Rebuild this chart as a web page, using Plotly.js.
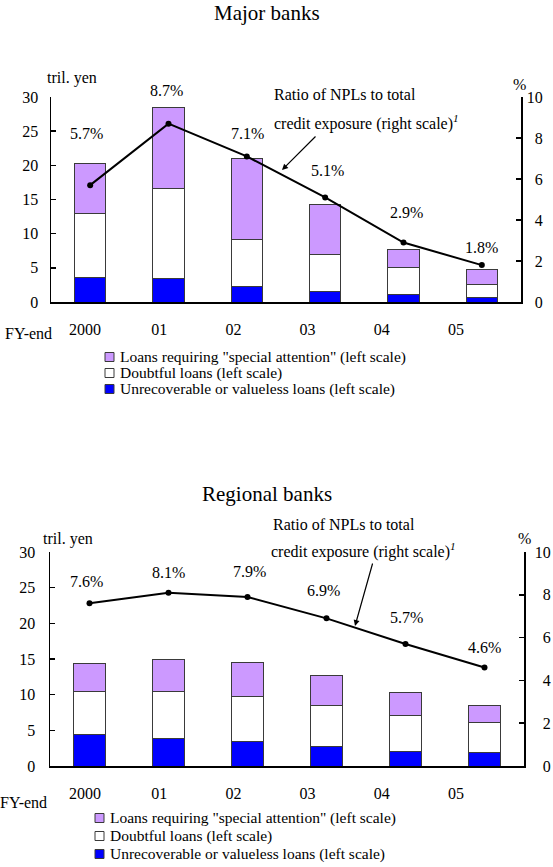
<!DOCTYPE html>
<html>
<head>
<meta charset="utf-8">
<script src="https://cdn.plot.ly/plotly-3.0.1.min.js"></script>
<style>
  html, body { margin: 0; padding: 0; background: #fff; }
  #chart { width: 553px; height: 867px; }
</style>
</head>
<body>
<div id="chart"></div>
<script>
// Fiscal years on the category axis
const years = ['2000', '01', '02', '03', '04', '05'];

// Series names shown in the legends
const seriesNames = [
  'Loans requiring "special attention" (left scale)',
  'Doubtful loans (left scale)',
  'Unrecoverable or valueless loans (left scale)'
];

// Major banks, trillion yen
const majorUnrecoverable = [3.65, 3.5, 2.25, 1.6, 1.15, 0.6];
const majorDoubtful = [9.35, 13.15, 6.85, 5.3, 3.85, 1.9];
const majorSpecial = [7.2, 11.8, 11.95, 7.3, 2.75, 2.3];
// Major banks, NPL ratio (%)
const majorRatio = [5.7, 8.7, 7.1, 5.1, 2.9, 1.8];

// Regional banks, trillion yen
const regionalUnrecoverable = [4.4, 3.85, 3.45, 2.7, 2.1, 1.85];
const regionalDoubtful = [6.1, 6.55, 6.25, 5.8, 5.0, 4.25];
const regionalSpecial = [3.8, 4.6, 4.75, 4.15, 3.15, 2.4];
// Regional banks, NPL ratio (%)
const regionalRatio = [7.6, 8.1, 7.9, 6.9, 5.7, 4.6];

// Tick values for the two value axes
const leftTicks = [0, 5, 10, 15, 20, 25, 30];
const rightTicks = [0, 2, 4, 6, 8, 10];

// ---- layout helpers (pixel -> paper) ----
const W = 553, H = 867;
const px = x => x / W;
const py = y => 1 - y / H;
const FONT = '"Liberation Serif", "Times New Roman", serif';
const colors = ['#CC99FF', '#FFFFFF', '#0000FF'];
const outline = '#3a3a3a';

// right-hand tick text is right aligned: pad single digits with an en space
const rightTickText = rightTicks.map(v => (v < 10 ? '\u2002' : '') + v);

function panel(cfg) {
  const s = cfg.suffix;
  const xa = 'x' + s.x, ya = 'y' + s.yl, yb = 'y' + s.yr, xl = 'x' + s.xl;
  const traces = [];
  const stack = [
    [cfg.unrecoverable, 2],
    [cfg.doubtful, 1],
    [cfg.special, 0]
  ];
  stack.forEach(([vals, k]) => {
    traces.push({
      type: 'bar', x: years, y: vals, xaxis: xa, yaxis: ya,
      name: seriesNames[k], width: 0.4, showlegend: false,
      marker: { color: colors[k], line: { color: outline, width: 1 } },
      hoverinfo: 'skip'
    });
  });
  traces.push({
    type: 'scatter', mode: 'lines+markers', x: years, y: cfg.ratio,
    xaxis: xa, yaxis: yb, showlegend: false,
    line: { color: '#000', width: 2 },
    marker: { color: '#000', size: 6 },
    hoverinfo: 'skip'
  });
  // carrier for the fiscal-year tick labels
  traces.push({
    type: 'scatter', mode: 'markers', x: years, y: years.map(() => 0),
    xaxis: xl, yaxis: ya, showlegend: false,
    marker: { opacity: 0 }, hoverinfo: 'skip'
  });
  return traces;
}

const majorPanel = {
  suffix: { x: '', yl: '', yr: '2', xl: '3' },
  unrecoverable: majorUnrecoverable, doubtful: majorDoubtful,
  special: majorSpecial, ratio: majorRatio
};
const regionalPanel = {
  suffix: { x: '2', yl: '3', yr: '4', xl: '4' },
  unrecoverable: regionalUnrecoverable, doubtful: regionalDoubtful,
  special: regionalSpecial, ratio: regionalRatio
};

const data = panel(majorPanel).concat(panel(regionalPanel));

const tickFont = { family: FONT, size: 16, color: '#000' };

function catAxis(dom, anchor) {
  return {
    type: 'category', domain: dom, anchor: anchor, range: [-0.5, 5.5],
    showline: true, linecolor: '#000', linewidth: 1.5, ticks: '',
    showticklabels: false, showgrid: false, zeroline: false, fixedrange: true
  };
}
function labelAxis(dom, anchor, over, x0, step) {
  // place category i at pixel x0 + step*i
  const left = dom[0] * W, span = (dom[1] - dom[0]) * W;
  const r0 = -(x0 - left) / step;
  const r1 = r0 + span / step;
  return {
    type: 'category', domain: dom, anchor: anchor, overlaying: over,
    range: [r0, r1], showline: false, ticks: '', showgrid: false,
    zeroline: false, tickfont: tickFont, ticklabelstandoff: 16,
    tickmode: 'array', tickvals: years, ticktext: years, fixedrange: true
  };
}
function leftAxis(dom, anchor, standoff) {
  return {
    domain: dom, anchor: anchor, range: [0, 30], tickmode: 'array',
    tickvals: leftTicks, ticktext: leftTicks.map(String),
    showline: true, linecolor: '#000', linewidth: 1.5,
    ticks: 'inside', ticklen: 5, tickcolor: '#000', tickwidth: 1.5,
    showgrid: false, zeroline: false, tickfont: tickFont,
    ticklabelstandoff: standoff, fixedrange: true
  };
}
function rightAxis(dom, anchor, over, standoff) {
  return {
    domain: dom, anchor: anchor, overlaying: over, side: 'right',
    range: [0, 10], tickmode: 'array', tickvals: rightTicks,
    ticktext: rightTickText,
    showline: true, linecolor: '#000', linewidth: 1.5,
    ticks: 'inside', ticklen: 5, tickcolor: '#000', tickwidth: 1.5,
    showgrid: false, zeroline: false, tickfont: tickFont,
    ticklabelstandoff: standoff, fixedrange: true
  };
}

const topX = [px(51), px(521)], topY = [py(302), py(97)];
const botX = [px(50), px(524)], botY = [py(766), py(552)];

const layout = {
  width: W, height: H,
  margin: { l: 0, r: 0, t: 0, b: 0 },
  paper_bgcolor: '#fff', plot_bgcolor: 'rgba(0,0,0,0)',
  barmode: 'stack', showlegend: false,
  font: { family: FONT, size: 16, color: '#000' },
  xaxis: catAxis(topX, 'y'),
  xaxis3: labelAxis(topX, 'y', 'x', 85, 74.2),
  yaxis: leftAxis(topY, 'x', 8),
  yaxis2: rightAxis(topY, 'x', 'y', 1),
  xaxis2: catAxis(botX, 'y3'),
  xaxis4: labelAxis(botX, 'y3', 'x2', 85, 74.2),
  yaxis3: leftAxis(botY, 'x2', 10),
  yaxis4: rightAxis(botY, 'x2', 'y3', 6),
  annotations: [],
  shapes: []
};

const ann = layout.annotations;
function text(t, x, y, opts) {
  ann.push(Object.assign({
    text: t, xref: 'paper', yref: 'paper', x: px(x), y: py(y),
    xanchor: 'left', yanchor: 'middle', showarrow: false,
    font: { family: FONT, size: 16, color: '#000' }
  }, opts || {}));
}

// Ratio value labels above the line (x given as category index)
function ratioLabels(ratio, xa, ya, shifts, xshifts) {
  ratio.forEach((v, i) => {
    ann.push({
      text: v.toFixed(1) + '%', xref: xa, yref: ya, x: i, y: v,
      yshift: shifts[i], xshift: xshifts[i], showarrow: false,
      xanchor: 'center', yanchor: 'middle',
      font: { family: FONT, size: 16, color: '#000' }
    });
  });
}

// Arrow from the callout text to the line
function arrow(hx, hy, tx, ty) {
  ann.push({
    text: '', xref: 'paper', yref: 'paper', x: px(hx), y: py(hy),
    ax: tx - hx, ay: ty - hy, axref: 'pixel', ayref: 'pixel',
    showarrow: true, arrowhead: 2, arrowsize: 1, arrowwidth: 1.2,
    arrowcolor: '#000', standoff: 0, startstandoff: 0
  });
}

// Legend built from the series names
function legend(x, y0, step) {
  [0, 1, 2].forEach(k => {
    const y = y0 + k * step;
    layout.shapes.push({
      type: 'rect', xref: 'paper', yref: 'paper',
      x0: px(x), x1: px(x + 9), y0: py(y + 4.5), y1: py(y - 4.5),
      fillcolor: colors[k], line: { color: outline, width: 1 }
    });
    text(seriesNames[k], x + 13, y, { font: { family: FONT, size: 15.5, color: '#000' } });
  });
}

// ---- Major banks ----
text('Major banks', 267, 13, { xanchor: 'center', font: { family: FONT, size: 21, color: '#000' } });
text('tril. yen', 72, 78, { xanchor: 'center' });
text('%', 519, 85, { xanchor: 'center' });
text('FY-end', 3, 333);
text('Ratio of NPLs to total', 272, 95);
text('credit exposure (right scale)<sup><i>1</i></sup>', 272, 123);
arrow(282, 170, 317, 135);
ratioLabels(majorRatio, 'x', 'y2', [52, 33, 23, 27, 30, 18], [-4, -2, 1, 2, 3, 0]);
legend(105, 357, 16);

// ---- Regional banks ----
text('Regional banks', 267, 494, { xanchor: 'center', font: { family: FONT, size: 21, color: '#000' } });
text('tril. yen', 68, 539, { xanchor: 'center' });
text('%', 524, 538, { xanchor: 'center' });
text('FY-end', -2, 802);
text('Ratio of NPLs to total', 271, 524);
text('credit exposure (right scale)<sup><i>1</i></sup>', 269, 550);
arrow(355, 626, 373, 562);
ratioLabels(regionalRatio, 'x2', 'y4', [22, 20, 25, 28, 27, 20], [-3, 0, 2, -3, 1, 0]);
legend(95, 818, 18);

Plotly.newPlot('chart', data, layout, { displayModeBar: false, staticPlot: true });
</script>
</body>
</html>
